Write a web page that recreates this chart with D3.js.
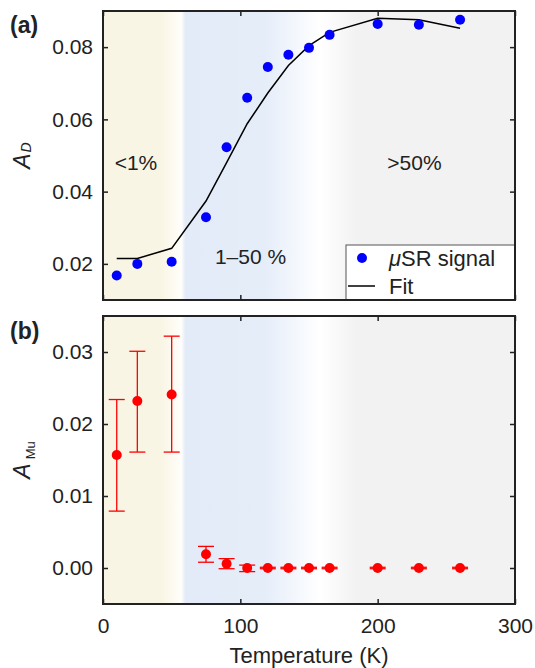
<!DOCTYPE html>
<html><head><meta charset="utf-8">
<script src="https://cdn.jsdelivr.net/npm/d3@7"></script>
<style>
body{margin:0;background:#fff}
text{font-family:"Liberation Sans",Arial,Helvetica,sans-serif;fill:#222}
</style>
</head><body>
<svg id="c" width="535" height="668"></svg>
<script>
// ---- data ----
const temps = [10,25,50,75,90,105,120,135,150,165,200,230,260];
const aD    = [0.0168,0.0200,0.0206,0.0329,0.0523,0.0660,0.0745,0.0779,0.0798,0.0834,0.0864,0.0862,0.0876];
const fitD  = [0.0215,0.0215,0.0243,0.0374,0.0480,0.0588,0.0673,0.0749,0.0804,0.0841,0.0880,0.0876,0.0852];
const aMu   = [0.0157,0.0232,0.0241,0.0019,0.0006,0.0000,0.0000,0.0000,0.0000,0.0000,0.0000,0.0000,0.0000];
const aMuHi = [0.0234,0.0301,0.0322,0.0030,0.0013,0.0004,0.0001,0.0001,0.0001,0.0001,0.0001,0.0001,0.0001];
const aMuLo = [0.0079,0.0161,0.0161,0.0008,-0.0001,-0.0005,-0.0001,-0.0001,-0.0001,-0.0001,-0.0001,-0.0001,-0.0001];
const xTicks = [0,100,200,300];
const yTicksA = [0.02,0.04,0.06,0.08];
const yTicksB = [0.00,0.01,0.02,0.03];
const bgStops = [[0,'#f9f5e4'],[42,'#f9f5e4'],[57,'#fffefa'],[60,'#e3ebf8'],[118,'#e5edf9'],[158,'#ffffff'],[185,'#f2f2f2'],[300,'#f2f2f2']];
const regionLabels = [
  {t:'<1%', T:8.5, v:0.0479},
  {t:'>50%', T:207, v:0.0479},
  {t:'1\u201350 %', T:81.5, v:0.0219}
];

// ---- layout ----
const svg = d3.select('#c');
const L = 103, R = 515;
const x = d3.scaleLinear().domain([0,300]).range([L,R]);
const yA = d3.scaleLinear().domain([0.01,0.09]).range([300,11]);
const yB = d3.scaleLinear().domain([-0.005,0.035]).range([604,316]);
const FS = 21;

const defs = svg.append('defs');
const grad = defs.append('linearGradient').attr('id','bg')
  .attr('gradientUnits','userSpaceOnUse').attr('x1',L).attr('x2',R).attr('y1',0).attr('y2',0);
bgStops.forEach(([k,c])=>grad.append('stop').attr('offset',(x(k)-L)/(R-L)).attr('stop-color',c));

function panel(y, ticks, sub, subItalic, subDy, subSize, tag, tagY, showX){
  const [b,t] = y.range();
  const g = svg.append('g');
  g.append('rect').attr('x',L).attr('y',t).attr('width',R-L).attr('height',b-t).attr('fill','url(#bg)');
  const ax = (a,tr)=>{const gg=g.append('g').attr('transform',tr).call(a);gg.select('.domain').remove();
    gg.selectAll('line').attr('stroke','#222').attr('stroke-width',1.5);
    gg.selectAll('text').attr('font-size',FS).attr('fill','#222').attr('font-family','Liberation Sans, Arial, sans-serif');return gg;};
  ax(d3.axisLeft(y).tickValues(ticks).tickFormat(d3.format('.2f')).tickSize(-5).tickPadding(10),`translate(${L},0)`);
  ax(d3.axisRight(y).tickValues(ticks).tickFormat('').tickSize(-5),`translate(${R},0)`);
  ax(d3.axisTop(x).tickValues(xTicks).tickFormat('').tickSize(-5),`translate(0,${t})`);
  ax(d3.axisBottom(x).tickValues(xTicks).tickFormat(showX?d3.format('d'):'').tickSize(-5).tickPadding(14),`translate(0,${b})`);
  const yl = g.append('text').attr('transform',`translate(30,${(t+b)/2}) rotate(-90)`).attr('text-anchor','middle');
  yl.append('tspan').text('A').attr('font-style','italic').attr('font-size',23);
  yl.append('tspan').text(sub).attr('font-style',subItalic?'italic':'normal').attr('font-size',subSize).attr('dy',subDy).attr('dx',subItalic?1:4);
  svg.append('text').attr('x',10).attr('y',tagY).text(tag).attr('font-weight','bold').attr('font-size',23).attr('fill','#111');
  return g;
}

const gA = panel(yA, yTicksA, 'D', true, 1, 14, '(a)', 33, false);
const gB = panel(yB, yTicksB, 'Mu', false, 5, 13, '(b)', 339, true);

regionLabels.forEach(d=>gA.append('text').attr('x',x(d.T)).attr('y',yA(d.v)+7).text(d.t).attr('font-size',FS));

gA.append('path').datum(temps.map((T,i)=>[T,fitD[i]]))
  .attr('d',d3.line().x(d=>x(d[0])).y(d=>yA(d[1])))
  .attr('fill','none').attr('stroke','#000').attr('stroke-width',1.5);
gA.selectAll('circle.pt').data(temps.map((T,i)=>[T,aD[i]])).enter().append('circle')
  .attr('cx',d=>x(d[0])).attr('cy',d=>yA(d[1])).attr('r',5).attr('fill','#0000ff');

const lg = gA.append('g');
lg.append('rect').attr('x',346).attr('y',245).attr('width',R-346).attr('height',300-245).attr('fill','#fff').attr('stroke','#555').attr('stroke-width',1);
lg.append('circle').attr('cx',362).attr('cy',258).attr('r',5).attr('fill','#0000ff');
const lt = lg.append('text').attr('x',389).attr('y',266).attr('font-size',22);
lt.append('tspan').text('\u03bc').attr('font-style','italic');
lt.append('tspan').text('SR signal');
lg.append('line').attr('x1',348).attr('x2',375).attr('y1',286).attr('y2',286).attr('stroke','#000').attr('stroke-width',1.5);
lg.append('text').attr('x',389).attr('y',294).attr('font-size',22).text('Fit');

const bd = temps.map((T,i)=>({T,v:aMu[i],hi:aMuHi[i],lo:aMuLo[i]}));
const eb = gB.selectAll('g.eb').data(bd).enter().append('g').attr('stroke','#ff0000').attr('stroke-width',1.3);
eb.append('line').attr('x1',d=>x(d.T)).attr('x2',d=>x(d.T)).attr('y1',d=>yB(d.hi)).attr('y2',d=>yB(d.lo));
eb.append('line').attr('x1',d=>x(d.T)-8).attr('x2',d=>x(d.T)+8).attr('y1',d=>yB(d.hi)).attr('y2',d=>yB(d.hi));
eb.append('line').attr('x1',d=>x(d.T)-8).attr('x2',d=>x(d.T)+8).attr('y1',d=>yB(d.lo)).attr('y2',d=>yB(d.lo));
gB.selectAll('circle.pt').data(bd).enter().append('circle')
  .attr('cx',d=>x(d.T)).attr('cy',d=>yB(d.v)).attr('r',5).attr('fill','#ff0000');

[yA,yB].forEach(y=>{const [b,t]=y.range();
  svg.append('rect').attr('x',L).attr('y',t).attr('width',R-L).attr('height',b-t).attr('fill','none').attr('stroke','#222').attr('stroke-width',2);});

svg.append('text').attr('x',(L+R)/2).attr('y',663).attr('text-anchor','middle').attr('font-size',22).text('Temperature (K)');
</script>
</body></html>
